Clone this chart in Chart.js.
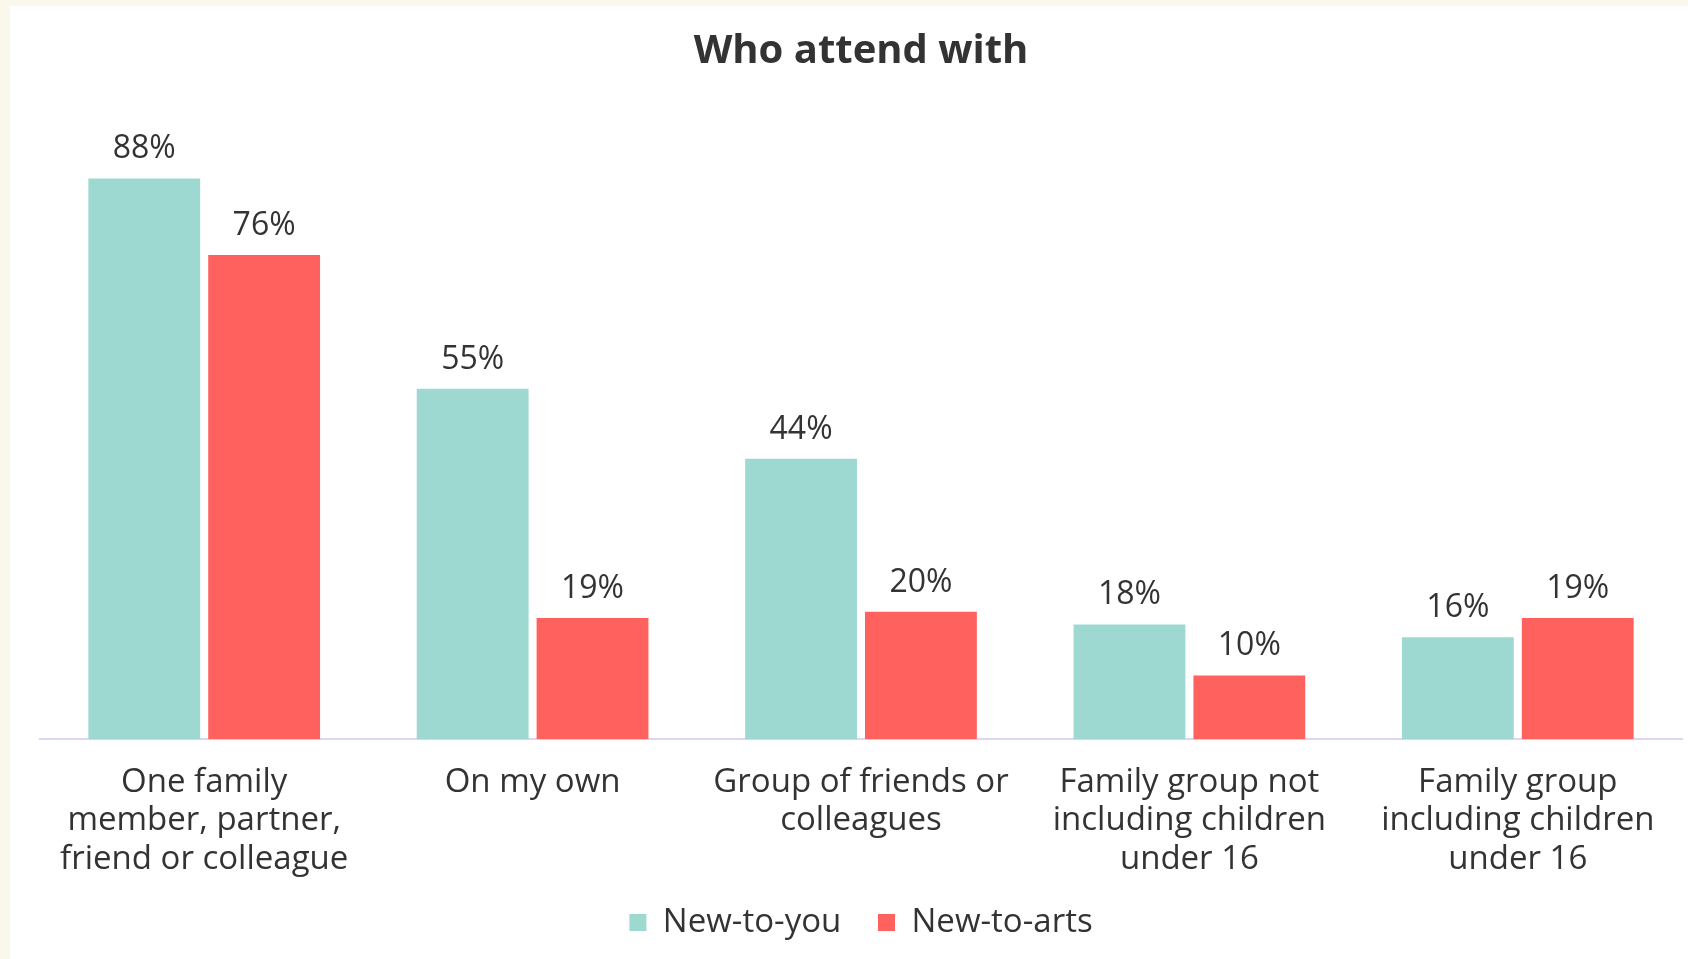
<!DOCTYPE html>
<html>
<head>
<meta charset="utf-8">
<script src="https://cdn.jsdelivr.net/npm/chart.js@4"></script>
<style>
  html, body { margin: 0; padding: 0; background: #faf8ec; }
  #panel { position: absolute; left: 10px; top: 6px; width: 1678px; height: 953px; background: #ffffff; }
</style>
</head>
<body>
<div id="panel"><canvas id="ChartDetail1"></canvas></div>
<script>
// chart data
var categories = [
    ['One family', 'member, partner,', 'friend or colleague'],
    ['On my own'],
    ['Group of friends or', 'colleagues'],
    ['Family group not', 'including children', 'under 16'],
    ['Family group', 'including children', 'under 16']
];
var newToYou = [88, 55, 44, 18, 16];
var newToArts = [76, 19, 20, 10, 19];
var seriesNames = ['New-to-you', 'New-to-arts'];

var textColor = '#333333';
var fontFamily = "'Open Sans', sans-serif";

// draws the % values above each bar
var valueLabels = {
    id: 'valueLabels',
    afterDatasetsDraw: function(chart) {
        var ctx = chart.ctx;
        ctx.save();
        ctx.font = '32px ' + fontFamily;
        ctx.fillStyle = textColor;
        ctx.textAlign = 'center';
        ctx.textBaseline = 'alphabetic';
        chart.data.datasets.forEach(function(ds, i) {
            var meta = chart.getDatasetMeta(i);
            meta.data.forEach(function(bar, j) {
                ctx.fillText(ds.data[j] + '%', bar.x, bar.y - 20);
            });
        });
        ctx.restore();
    }
};

var config1 = {
    type: 'bar',
    data: {
        labels: categories,
        datasets: [{
            label: seriesNames[0],
            backgroundColor: '#9ed9d1',
            data: newToYou,
            categoryPercentage: 0.73,
            barPercentage: 0.933
        }, {
            label: seriesNames[1],
            backgroundColor: '#ff625e',
            data: newToArts,
            categoryPercentage: 0.73,
            barPercentage: 0.933
        }]
    },
    options: {
        responsive: true,
        maintainAspectRatio: false,
        animation: false,
        layout: {
            padding: { left: 30, right: 6, top: 0, bottom: 10 }
        },
        plugins: {
            title: {
                display: true,
                text: 'Who attend with',
                color: textColor,
                font: { family: fontFamily, size: 40, weight: 'bold' },
                padding: { top: 22, bottom: 26 }
            },
            legend: {
                position: 'bottom',
                labels: {
                    color: textColor,
                    font: { family: fontFamily, size: 33 },
                    boxWidth: 17,
                    boxHeight: 17,
                    padding: 11,
                    // extra room after the first item, like the gap in the original
                    generateLabels: function(chart) {
                        var items = Chart.defaults.plugins.legend.labels.generateLabels(chart);
                        items[0].text = items[0].text + '   ';
                        return items;
                    }
                }
            },
            tooltip: { enabled: false }
        },
        scales: {
            x: {
                grid: { display: false },
                border: { display: true, color: '#ddd5f2', width: 2 },
                ticks: {
                    color: textColor,
                    font: { family: fontFamily, size: 33, lineHeight: 1.17 },
                    padding: 16,
                    maxRotation: 0,
                    autoSkip: false
                }
            },
            y: {
                display: false,
                min: 0,
                max: 100
            }
        }
    },
    plugins: [valueLabels]
};

window.onload = function() {
    var ctx1 = document.getElementById('ChartDetail1').getContext('2d');
    window.myBar = new Chart(ctx1, config1);
};
</script>
</body>
</html>
